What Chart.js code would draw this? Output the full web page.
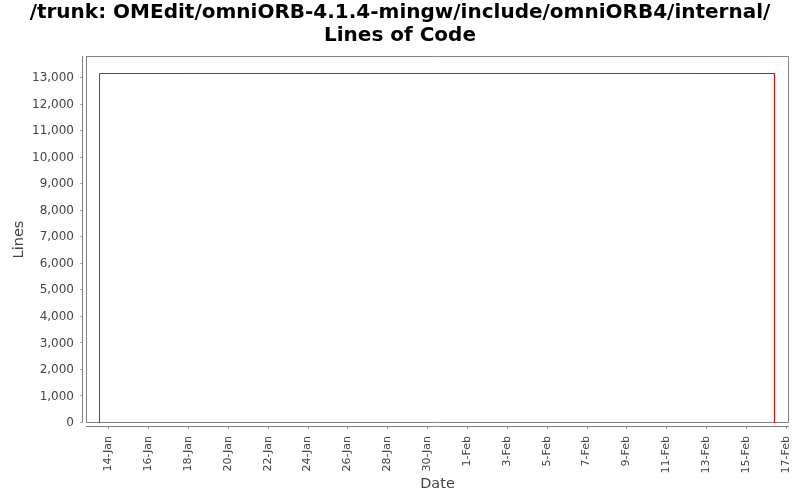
<!DOCTYPE html>
<html>
<head>
<meta charset="utf-8">
<title>Lines of Code</title>
<script src="https://cdn.jsdelivr.net/npm/chart.js@4.4.0/dist/chart.umd.min.js"></script>
<style>
  html, body { margin: 0; padding: 0; background: #fff; }
  canvas { display: block; }
</style>
</head>
<body>
<canvas id="chart" width="800" height="500"></canvas>
<script>
// x values are days counted from 1 Jan (so 1-Feb = 32)
const dateDays = [13.56, 13.56, 47.43, 47.43];
const lineCounts = [0, 13169, 13169, 0];

const xTickDays = [14, 16, 18, 20, 22, 24, 26, 28, 30, 32, 34, 36, 38, 40, 42, 44, 46, 48];
const xTickLabels = ['14-Jan', '16-Jan', '18-Jan', '20-Jan', '22-Jan', '24-Jan', '26-Jan', '28-Jan', '30-Jan',
  '1-Feb', '3-Feb', '5-Feb', '7-Feb', '9-Feb', '11-Feb', '13-Feb', '15-Feb', '17-Feb'];
const yTicks = [0, 1000, 2000, 3000, 4000, 5000, 6000, 7000, 8000, 9000, 10000, 11000, 12000, 13000];

const titleLines = ['/trunk: OMEdit/omniORB-4.1.4-mingw/include/omniORB4/internal/', 'Lines of Code'];

const FONT = 'DejaVu Sans';
const AXIS_GREY = '#808080';

// plot frame plus the slightly detached axis lines with their tick marks
const framePlugin = {
  id: 'frame',
  beforeDatasetsDraw(chart) {
    const { ctx, chartArea: a, scales: { x, y } } = chart;
    ctx.save();
    ctx.strokeStyle = AXIS_GREY;
    ctx.lineWidth = 1;
    ctx.beginPath();
    ctx.rect(a.left + 0.5, a.top + 0.5, a.right - a.left - 1, a.bottom - a.top - 1);
    ctx.stroke();

    // y axis line, 4px left of the plot
    const ax = a.left - 3.5;
    ctx.beginPath();
    ctx.moveTo(ax, a.top);
    ctx.lineTo(ax, a.bottom - 1);
    yTicks.forEach(v => {
      const py = Math.round(y.getPixelForValue(v)) - 0.5;
      ctx.moveTo(ax - 2, py);
      ctx.lineTo(ax, py);
    });
    ctx.stroke();

    // x axis line, 4px below the plot
    const ay = a.bottom + 3.5;
    ctx.beginPath();
    ctx.moveTo(a.left, ay);
    ctx.lineTo(a.right, ay);
    xTickDays.forEach(v => {
      const px = Math.round(x.getPixelForValue(v)) + 0.5;
      ctx.moveTo(px, ay);
      ctx.lineTo(px, ay + 2);
    });
    ctx.stroke();
    ctx.restore();
  }
};

new Chart(document.getElementById('chart'), {
  type: 'line',
  data: {
    datasets: [{
      label: 'Lines',
      data: dateDays.map((d, i) => ({ x: d, y: lineCounts[i] })),
      borderColor: '#FF0000',
      borderWidth: 1,
      pointRadius: 0,
      fill: false,
      tension: 0
    }]
  },
  options: {
    responsive: false,
    animation: false,
    devicePixelRatio: 1,
    layout: { padding: { left: 0, right: 0, top: 0, bottom: 0 } },
    plugins: {
      legend: { display: false },
      tooltip: { enabled: false },
      title: {
        display: true,
        text: titleLines,
        color: '#000',
        font: { family: FONT, size: 20, weight: 'bold', lineHeight: 1.15 },
        padding: { top: 1.5, bottom: 8.5 }
      }
    },
    scales: {
      x: {
        type: 'linear',
        min: 12.88,
        max: 48.16,
        afterBuildTicks: s => { s.ticks = xTickDays.map(v => ({ value: v })); },
        afterFit: s => { s.height = 77; s.paddingLeft = 0; s.paddingRight = 0; },
        grid: { display: false, drawTicks: false },
        border: { display: false },
        ticks: {
          autoSkip: false,
          minRotation: 90,
          maxRotation: 90,
          padding: 13,
          color: '#444',
          font: { family: FONT, size: 11 },
          callback: v => xTickLabels[xTickDays.indexOf(v)]
        },
        title: {
          display: true,
          text: 'Date',
          color: '#444',
          font: { family: FONT, size: 14.5 },
          padding: { top: 7, bottom: 7 }
        }
      },
      y: {
        type: 'linear',
        min: 0,
        max: 13828,
        afterBuildTicks: s => { s.ticks = yTicks.map(v => ({ value: v })); },
        afterFit: s => { s.width = 86; s.paddingTop = 0; s.paddingBottom = 0; },
        grid: { display: false, drawTicks: false },
        border: { display: false },
        ticks: {
          padding: 12,
          color: '#444',
          font: { family: FONT, size: 12 },
          callback: v => v.toLocaleString('en-US')
        },
        title: {
          display: true,
          text: 'Lines',
          color: '#444',
          font: { family: FONT, size: 14.5 },
          padding: { top: 11, bottom: 9 }
        }
      },
      // empty spacer so the plot stops short of the right edge
      spacer: {
        type: 'linear',
        position: 'right',
        display: true,
        afterFit: s => { s.width = 11; s.paddingTop = 0; s.paddingBottom = 0; },
        grid: { display: false, drawTicks: false },
        border: { display: false },
        ticks: { display: false }
      }
    }
  },
  plugins: [framePlugin]
});
</script>
</body>
</html>
